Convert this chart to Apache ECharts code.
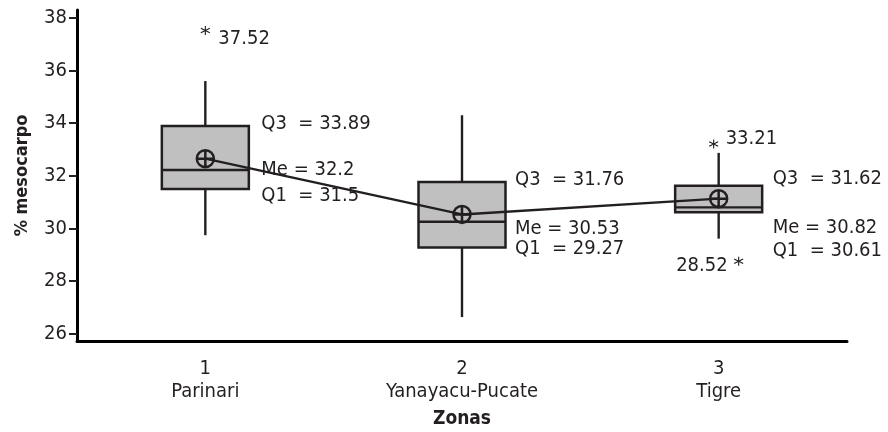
<!DOCTYPE html>
<html><head><meta charset="utf-8">
<script src="https://cdn.jsdelivr.net/npm/echarts@6/dist/echarts.min.js"></script>
<style>html,body{margin:0;padding:0;background:#fff}#c{width:888px;height:432px}</style>
</head><body><div id="c"></div>
<script>
// ---- data ----
const zoneNumbers = ['1', '2', '3'];
const zoneNames = ['Parinari', 'Yanayacu-Pucate', 'Tigre'];
const whiskerLow = [29.74, 26.63, 29.61];
const q1 = [31.5, 29.27, 30.61];
const medians = [32.22, 30.25, 30.8];
const q3 = [33.89, 31.76, 31.62];
const whiskerHigh = [35.6, 34.3, 32.87];
const means = [32.65, 30.53, 31.13];
const medianLabels = ['32.2', '30.53', '30.82'];
const outlierZone = [0, 2, 2];
const outlierValues = [37.52, 33.21, 28.52];
const yTicks = [26, 28, 30, 32, 34, 36, 38];

// ---- styling / layout ----
const DARK = '#231f20';
const FONT = "'DejaVu Sans Condensed', 'Liberation Sans Narrow', sans-serif";
const FS = 20;
const BOX_W = 87;
const q3Off = [[56, -2.5], [53, -2.5], [54, -7]];
const meOff = [[56, 0], [53, 7], [54, 20]];
const q1Off = [[56, 6.4], [53, 1], [54, 38]];
const starOff = [[0, 0], [-5, 0], [20, -6]];
const outLabelOff = [[13, 8], [7, -5.5], [9, -2]];
const outLabelAlign = ['left', 'left', 'right'];

const boxData = zoneNumbers.map((_, i) => [i, whiskerLow[i], q1[i], medians[i], q3[i], whiskerHigh[i]]);

const statLabels = [];
zoneNumbers.forEach((_, i) => {
  statLabels.push({ value: [i, q3[i]], label: { formatter: 'Q3  = ' + q3[i], offset: q3Off[i] } });
  statLabels.push({ value: [i, medians[i]], label: { formatter: 'Me = ' + medianLabels[i], offset: meOff[i] } });
  statLabels.push({ value: [i, q1[i]], label: { formatter: 'Q1  = ' + q1[i], offset: q1Off[i] } });
});

const stars = outlierValues.map((v, i) => ({ value: [outlierZone[i], v], symbolOffset: starOff[i] }));
const starLabels = outlierValues.map((v, i) => ({
  value: [outlierZone[i], v],
  label: { formatter: String(v), offset: outLabelOff[i], align: outLabelAlign[i] }
}));

const chart = echarts.init(document.getElementById('c'), null, { renderer: 'canvas' });
chart.setOption({
  animation: false,
  backgroundColor: '#fff',
  textStyle: { fontFamily: FONT },
  grid: { left: 77, right: 41, top: 10, bottom: 91, containLabel: false, outerBoundsMode: 'none' },
  xAxis: {
    type: 'category',
    data: zoneNumbers.map((n, i) => n + '\n' + zoneNames[i]),
    boundaryGap: true,
    name: 'Zonas',
    nameLocation: 'middle',
    nameGap: 69,
    nameTextStyle: { fontFamily: FONT, fontSize: 19, fontWeight: 'bold', color: DARK },
    axisLine: { lineStyle: { color: '#000', width: 3 } },
    axisTick: { alignWithLabel: true, length: 6, lineStyle: { color: '#666', width: 1 } },
    axisLabel: { fontFamily: FONT, fontSize: FS, color: DARK, margin: 16, lineHeight: 23 },
    splitLine: { show: false }
  },
  yAxis: {
    type: 'value',
    min: 25.72,
    max: 38.3,
    name: '% mesocarpo',
    nameLocation: 'middle',
    nameGap: 46,
    nameTextStyle: { fontFamily: FONT, fontSize: 18, fontWeight: 'bold', color: DARK },
    axisLine: { show: true, lineStyle: { color: '#000', width: 3 } },
    axisTick: { show: true, customValues: yTicks, length: 8, lineStyle: { color: DARK, width: 2 } },
    axisLabel: { customValues: yTicks, fontFamily: FONT, fontSize: FS, color: DARK, margin: 10 },
    splitLine: { show: false }
  },
  series: [
    {
      type: 'custom',
      z: 2,
      data: boxData,
      encode: { x: 0, y: [1, 2, 3, 4, 5] },
      renderItem: function (params, api) {
        const i = api.value(0);
        const pLow = api.coord([i, api.value(1)]);
        const pQ1 = api.coord([i, api.value(2)]);
        const pMed = api.coord([i, api.value(3)]);
        const pQ3 = api.coord([i, api.value(4)]);
        const pHigh = api.coord([i, api.value(5)]);
        const x = pLow[0], h = BOX_W / 2;
        const ls = { stroke: DARK, lineWidth: 2.4 };
        return {
          type: 'group',
          children: [
            { type: 'line', shape: { x1: x, y1: pHigh[1], x2: x, y2: pQ3[1] }, style: ls },
            { type: 'line', shape: { x1: x, y1: pQ1[1], x2: x, y2: pLow[1] }, style: ls },
            { type: 'rect', shape: { x: x - h, y: pQ3[1], width: BOX_W, height: pQ1[1] - pQ3[1] },
              style: { fill: '#c0c0c0', stroke: DARK, lineWidth: 2.5 } },
            { type: 'line', shape: { x1: x - h, y1: pMed[1], x2: x + h, y2: pMed[1] }, style: ls }
          ]
        };
      }
    },
    {
      type: 'scatter',
      z: 3,
      symbolSize: 0,
      itemStyle: { opacity: 1 },
      data: statLabels,
      label: { show: true, position: 'inside', align: 'left', verticalAlign: 'middle',
        fontFamily: FONT, fontSize: FS, color: DARK },
      silent: true
    },
    {
      type: 'scatter',
      z: 3,
      symbol: 'path://M5,0L5,10M0.67,2.5L9.33,7.5M0.67,7.5L9.33,2.5',
      symbolSize: 9,
      itemStyle: { color: 'rgba(0,0,0,0)', borderColor: DARK, borderWidth: 1.1, opacity: 1 },
      data: stars
    },
    {
      type: 'scatter',
      z: 3,
      symbolSize: 0,
      itemStyle: { opacity: 1 },
      data: starLabels,
      label: { show: true, position: 'inside', verticalAlign: 'middle',
        fontFamily: FONT, fontSize: FS, color: DARK }
    },
    {
      type: 'line',
      z: 5,
      data: means,
      symbol: 'path://M0,10A10,10,0,1,1,20,10A10,10,0,1,1,0,10ZM10,0L10,20M0,10L20,10',
      symbolSize: 17,
      showAllSymbol: true,
      lineStyle: { color: DARK, width: 2.4 },
      itemStyle: { color: 'rgba(0,0,0,0)', borderColor: DARK, borderWidth: 2.5 }
    }
  ]
});
</script>
</body></html>
